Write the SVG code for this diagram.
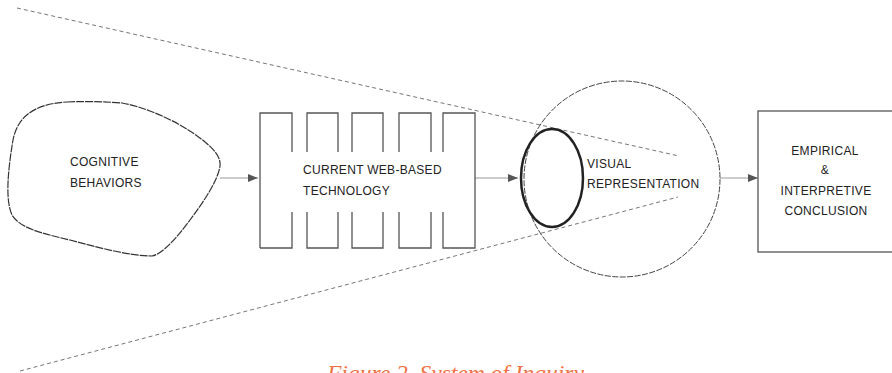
<svg xmlns="http://www.w3.org/2000/svg" width="892" height="373" viewBox="0 0 892 373">
<defs>
<style>
.lbl{font-family:"Liberation Sans",Arial,sans-serif;font-size:12px;letter-spacing:0.3px;fill:#222;}
.dash{fill:none;stroke:#777;stroke-width:1;stroke-dasharray:4 3;}
.edge{fill:none;stroke:#bbb;stroke-width:1.5;}
.box{fill:none;stroke:#555;stroke-width:1.3;}
.cap{font-family:"Liberation Serif","Times New Roman",serif;font-style:italic;font-size:23.5px;fill:#ee7245;}
</style>
<marker id="ah" viewBox="0 0 10 8" refX="10" refY="4" markerWidth="10" markerHeight="8" markerUnits="userSpaceOnUse" orient="auto">
<path d="M0,0 L10,4 L0,8 Z" fill="#555"/>
</marker>
</defs>
<rect width="892" height="373" fill="#fff"/>
<g id="cone">
<line class="dash" x1="17" y1="8" x2="679" y2="156"/>
<line class="dash" x1="20" y1="371" x2="678" y2="197"/>
</g>
<g id="connectors">
<line class="edge" x1="220" y1="178" x2="258" y2="178" marker-end="url(#ah)"/>
<line class="edge" x1="475" y1="178" x2="518" y2="178" marker-end="url(#ah)"/>
<line class="edge" x1="720" y1="178" x2="758" y2="178" marker-end="url(#ah)"/>
</g>
<g id="cognitive">
<path d="M67,102 C90,101 110,102 122,103 C150,108 185,125 205,142 C215,150 221,158 220,166 C218,180 205,200 190,220 C175,240 162,254 152,256 C130,256 100,248 70,240 C40,233 20,228 12,215 C5,200 8,170 13,140 C17,120 30,104 67,102 Z" fill="none" stroke="#333" stroke-width="1.2" stroke-dasharray="8 1"/>
<text class="lbl" x="70" y="166">COGNITIVE</text>
<text class="lbl" x="70" y="187">BEHAVIORS</text>
</g>
<g id="technology">
<path class="box" d="M260,248 V113 H292 V152 M307,152 V113 H338 V152 M352,152 V113 H383 V152 M399,152 V113 H431 V152 M443,152 V113 H475 V248 H443 V212 M431,212 V248 H399 V212 M383,212 V248 H352 V212 M338,212 V248 H307 V212 M292,212 V248 H260"/>
<text class="lbl" x="303" y="174">CURRENT WEB-BASED</text>
<text class="lbl" x="303" y="195">TECHNOLOGY</text>
</g>
<g id="visual">
<circle cx="622" cy="179" r="98" fill="none" stroke="#444" stroke-width="1" stroke-dasharray="6 1.5"/>
<ellipse cx="552" cy="178" rx="31" ry="49" fill="none" stroke="#222" stroke-width="2.5"/>
<text class="lbl" x="587" y="168">VISUAL</text>
<text class="lbl" x="587" y="188">REPRESENTATION</text>
</g>
<g id="conclusion">
<rect class="box" x="758" y="111" width="150" height="141"/>
<text class="lbl" x="825" y="155" text-anchor="middle">EMPIRICAL</text>
<text class="lbl" x="825" y="174" text-anchor="middle">&amp;</text>
<text class="lbl" x="826" y="195" text-anchor="middle">INTERPRETIVE</text>
<text class="lbl" x="826" y="215" text-anchor="middle">CONCLUSION</text>
</g>
<text class="cap" x="327" y="381">Figure 2. System of Inquiry</text>
</svg>
